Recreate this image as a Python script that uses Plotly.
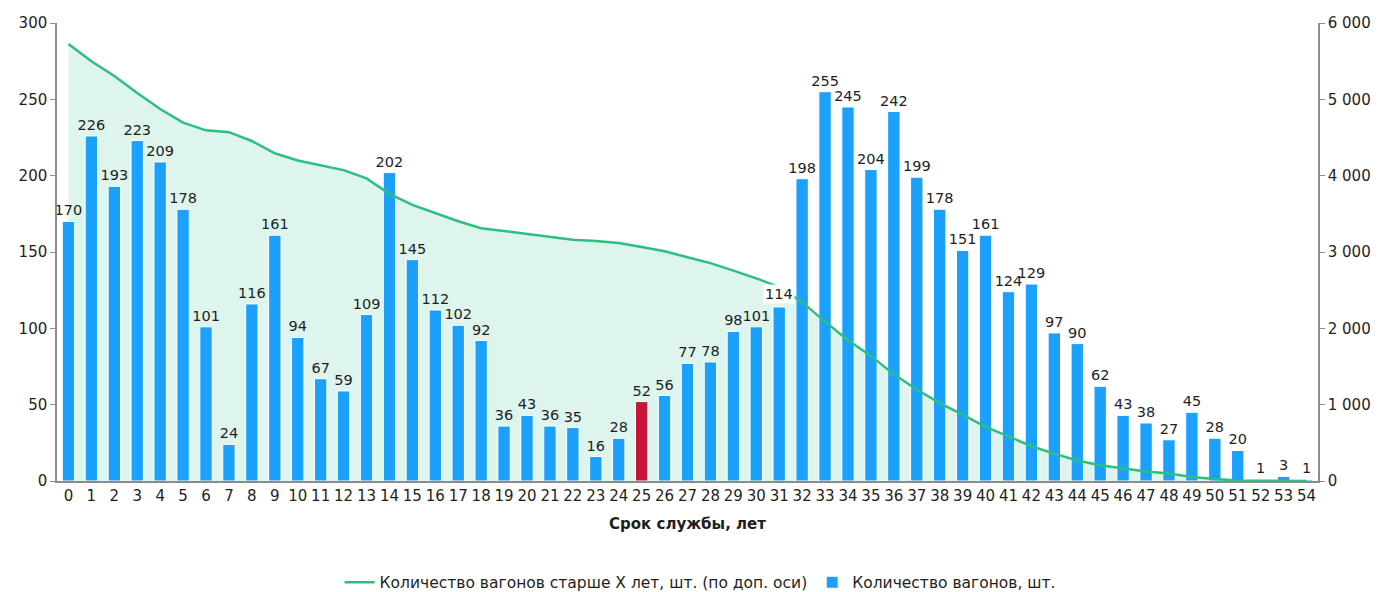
import plotly.graph_objects as go

# Срок службы, лет
ages = list(range(55))

# Количество вагонов, шт.
wagons = [170, 226, 193, 223, 209, 178, 101, 24, 116, 161, 94, 67, 59, 109, 202,
          145, 112, 102, 92, 36, 43, 36, 35, 16, 28, 52, 56, 77, 78, 98, 101, 114,
          198, 255, 245, 204, 242, 199, 178, 151, 161, 124, 129, 97, 90, 62, 43, 38,
          27, 45, 28, 20, 1, 3, 1]

# Количество вагонов старше X лет, шт. (по доп. оси)
older = [5724, 5498, 5305, 5082, 4873, 4695, 4594, 4570, 4454, 4293, 4199, 4132,
         4073, 3964, 3762, 3617, 3505, 3403, 3311, 3275, 3232, 3196, 3161, 3145,
         3117, 3065, 3009, 2932, 2854, 2756, 2655, 2541, 2343, 2088, 1843, 1639,
         1397, 1198, 1020, 869, 708, 584, 455, 358, 268, 206, 163, 125, 98, 53, 25,
         5, 4, 1, 0]

highlight_age = 25
boxed_age = 31  # label drawn with a white box over the line

BLUE = "#1BA1FB"
RED = "#C8143B"
GREEN = "#2DBF7F"
FILL = "#DDF5EC"
AXIS = "#8C8C8C"
TEXT = "#1E1E1E"
FONT = "DejaVu Sans"

bar_colors = [RED if a == highlight_age else BLUE for a in ages]
bar_text = ["" if a == boxed_age else str(v) for a, v in zip(ages, wagons)]

fig = go.Figure()

# area under the cumulative line (behind the bars)
fig.add_trace(go.Scatter(
    x=ages, y=older, mode="lines", line=dict(width=0, color=GREEN),
    fill="tozeroy", fillcolor=FILL, showlegend=False, hoverinfo="skip",
    xaxis="x", yaxis="y",
))

fig.add_trace(go.Bar(
    x=ages, y=wagons, name="Количество вагонов, шт.",
    marker=dict(color=bar_colors, line=dict(color="white", width=1)),
    width=0.54, text=bar_text, textposition="outside", cliponaxis=False,
    constraintext="none",
    textfont=dict(family=FONT, size=14.5, color=TEXT),
    legendrank=2, xaxis="x", yaxis="y2",
))

fig.add_trace(go.Scatter(
    x=ages, y=older, mode="lines", name="Количество вагонов старше X лет, шт. (по доп. оси)",
    line=dict(color=GREEN, width=2.5), legendrank=1, xaxis="x", yaxis="y3",
))

fig.add_annotation(
    x=boxed_age, y=wagons[boxed_age], xref="x", yref="y2", yshift=13,
    text=str(wagons[boxed_age]), showarrow=False, bgcolor="white",
    font=dict(family=FONT, size=14.5, color=TEXT), borderpad=1,
)

fig.update_layout(
    width=1383, height=592,
    margin=dict(l=57, r=65, t=23, b=111, autoexpand=False),
    plot_bgcolor="white", paper_bgcolor="white",
    separators=", ",
    font=dict(family=FONT, size=15, color=TEXT),
    xaxis=dict(
        type="linear", range=[-0.5, 54.5], tickmode="array", tickvals=ages,
        showgrid=False, zeroline=False, showline=True, linecolor=AXIS, linewidth=2,
        ticks="", tickfont=dict(size=15, color=TEXT), automargin=False,
        title=dict(text="<b>Срок службы, лет</b>", standoff=14,
                   font=dict(size=15, color=TEXT)),
    ),
    yaxis=dict(
        range=[0, 6000], side="right", dtick=1000, tickformat=",d", automargin=False,
        showgrid=False, zeroline=False, showline=True, linecolor=AXIS, linewidth=1.5,
        ticks="outside", ticklen=5, tickcolor=AXIS, tickfont=dict(size=15, color=TEXT),
    ),
    yaxis2=dict(
        range=[0, 300], side="left", overlaying="y", dtick=50, automargin=False,
        showgrid=False, zeroline=False, showline=True, linecolor=AXIS, linewidth=1.5,
        ticks="outside", ticklen=5, tickcolor=AXIS, tickfont=dict(size=15, color=TEXT),
    ),
    yaxis3=dict(range=[0, 6000], overlaying="y", visible=False),
    legend=dict(
        orientation="h", x=0.51, xanchor="center", y=-0.222, yanchor="middle",
        font=dict(family=FONT, size=15.5, color=TEXT), traceorder="normal",
    ),
)

# drop the default page margin so the figure fills the window exactly
fig.write_html(
    "out.html",
    config={"displayModeBar": False},
    post_script="document.body.style.margin = '0';",
)
